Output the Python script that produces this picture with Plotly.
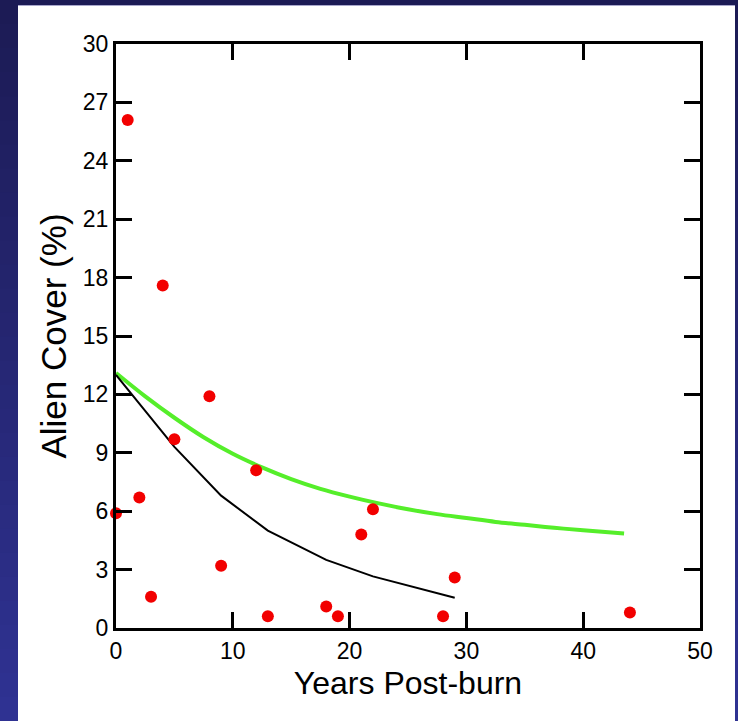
import plotly.graph_objects as go

# Observed data
years = [0, 1, 2, 3, 4, 5, 8, 9, 12, 13, 18, 19, 21, 22, 28, 29, 44]
cover = [5.9, 26.1, 6.7, 1.6, 17.6, 9.7, 11.9, 3.2, 8.1, 0.6, 1.1, 0.6, 4.8, 6.1, 0.6, 2.6, 0.8]

# Green fitted curve
green_x = [0, 2.5, 5, 7.5, 10, 12.5, 15, 17.5, 20, 22.5, 25, 27.5, 30, 32.5, 35, 37.5, 40, 43.5]
green_y = [13.1, 11.9, 10.8, 9.8, 8.95, 8.25, 7.65, 7.15, 6.75, 6.4, 6.1, 5.85, 5.65, 5.45,
           5.3, 5.15, 5.02, 4.85]

# Black fitted curve
black_x = [0, 5, 9, 13, 18, 22, 29]
black_y = [13.0, 9.3, 6.8, 5.0, 3.5, 2.65, 1.55]

x_ticks = [0, 10, 20, 30, 40, 50]
y_ticks = [0, 3, 6, 9, 12, 15, 18, 21, 24, 27, 30]

W, H = 738, 721
L, R, T, B = 116, 700, 44, 628
PW, PH = R - L, B - T


def px(x):
    return (x - L) / PW


def py(y):
    return (B - y) / PH


fig = go.Figure()

fig.add_trace(go.Scatter(x=green_x, y=green_y, mode="lines",
                         line=dict(color="#55ee2a", width=4, shape="spline"), hoverinfo="skip"))
fig.add_trace(go.Scatter(x=black_x, y=black_y, mode="lines",
                         line=dict(color="black", width=2), hoverinfo="skip"))
fig.add_trace(go.Scatter(x=years, y=cover, mode="markers",
                         marker=dict(color="#f20000", size=12, line=dict(width=0)),
                         cliponaxis=False))

shapes = []
# gradient background
n = 30
c0 = (0x1c, 0x1b, 0x55)
c1 = (0x2f, 0x32, 0x92)
for i in range(n):
    t = i / (n - 1)
    c = tuple(round(a + (b - a) * t) for a, b in zip(c0, c1))
    y_top = H * i / n
    y_bot = H * (i + 1) / n + 1
    shapes.append(dict(type="rect", xref="paper", yref="paper", layer="below",
                       x0=px(0), x1=px(W), y0=py(y_bot), y1=py(y_top),
                       fillcolor="rgb(%d,%d,%d)" % c, line=dict(width=0)))
# white panel
shapes.append(dict(type="rect", xref="paper", yref="paper", layer="below",
                   x0=px(18), x1=px(735), y0=py(W), y1=py(5),
                   fillcolor="white", line=dict(width=0)))
shapes.append(dict(type="line", xref="paper", yref="paper", layer="below",
                   x0=px(18), x1=px(735), y0=py(5.5), y1=py(5.5),
                   line=dict(color="#a9a8cc", width=1)))

axis_common = dict(showline=True, linecolor="black", linewidth=3, mirror="allticks",
                   ticks="inside", ticklen=16, tickwidth=3, tickcolor="black",
                   showgrid=False, zeroline=False,
                   tickfont=dict(family="Liberation Sans, Arial", size=23, color="black"))

fig.update_layout(
    width=W, height=H,
    margin=dict(l=L, r=W - R, t=T, b=H - B),
    paper_bgcolor="#1c1b55", plot_bgcolor="white",
    showlegend=False,
    shapes=shapes,
    xaxis=dict(range=[0, 50], tickvals=x_ticks, ticktext=[str(v) for v in x_ticks],
               title=dict(text="Years Post-burn", standoff=10,
                          font=dict(family="Liberation Sans, Arial", size=32, color="black")),
               **axis_common),
    yaxis=dict(range=[0, 30], tickvals=y_ticks, ticktext=[str(v) for v in y_ticks],
               title=dict(text="Alien Cover (%)", standoff=6,
                          font=dict(family="Liberation Sans, Arial", size=35, color="black")),
               **axis_common),
)

fig.write_html("out.html")
